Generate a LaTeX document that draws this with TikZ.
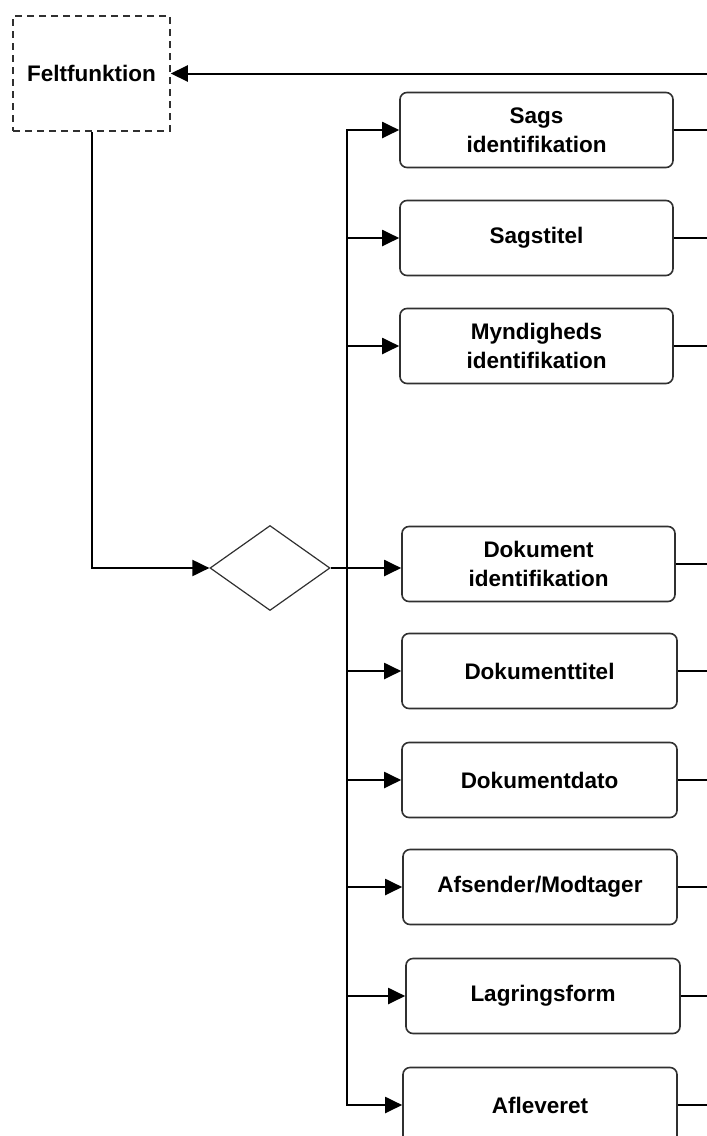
\documentclass[tikz,border=0pt]{standalone}
\usepackage{fontspec}
\setmainfont{Liberation Sans}
\usetikzlibrary{shapes.geometric,arrows.meta}
\definecolor{edge}{HTML}{303030}
\tikzset{
  field/.style={draw=edge, line width=1.6pt, rounded corners=7pt,
    minimum width=273pt, minimum height=75pt, inner sep=0pt,
    align=center, font=\bfseries\fontsize{22.5}{29}\selectfont},
  funcbox/.style={draw=edge, line width=1.5pt, dash pattern=on 7pt off 5pt,
    minimum width=157pt, minimum height=115pt, inner sep=0pt,
    font=\bfseries\fontsize{22.5}{29}\selectfont},
  choice/.style={diamond, draw=edge, line width=1.2pt, aspect=1.412,
    minimum width=120pt, minimum height=85pt, inner sep=0pt},
  link/.style={line width=2pt, black},
  arr/.style={link, -{Triangle[length=17pt, width=16pt]}},
}
\begin{document}
\begin{tikzpicture}[x=1pt, y=-1pt]
  \useasboundingbox (0,0) rectangle (707,1136);
  \clip (0,0) rectangle (707,1136);

  % function box and decision
  \node[funcbox] (ff) at (91.5,73.5) {Feltfunktion};
  \node[choice] (dia) at (270,568) {};

  % field boxes
  \node[field] (b1) at (536.5,130) {Sags\\identifikation};
  \node[field] (b2) at (536.5,238) {Sagstitel};
  \node[field] (b3) at (536.5,346) {Myndigheds\\identifikation};
  \node[field] (b4) at (538.5,564) {Dokument\\identifikation};
  \node[field, minimum width=275pt] (b5) at (539.5,671) {Dokumenttitel};
  \node[field, minimum width=275pt] (b6) at (539.5,780) {Dokumentdato};
  \node[field, minimum width=274pt] (b7) at (540,887) {Afsender/Modtager};
  \node[field, minimum width=274pt] (b8) at (543,996) {Lagringsform};
  \node[field, minimum width=274pt] (b9) at (540,1105) {Afleveret};

  % helper points
  \coordinate (j) at (347,568);
  \coordinate (rim) at (707,0);
  \coordinate (fb) at (707,73.5);

  % incoming feedback line
  \draw[arr] (fb) -- (ff.east);

  % function box to decision
  \draw[arr] (ff.south) |- (dia.west);
  \draw[link] (dia.east) -- (j);

  % branches to the fields
  \draw[arr] (j) -- (j -| b4.west);
  \foreach \b in {b1,b2,b3,b5,b6,b7,b8,b9}
    \draw[arr] (j) |- (\b.west);

  % outgoing lines
  \foreach \b in {b1,b2,b3,b4,b5,b6,b7,b8,b9}
    \draw[link] (\b.east) -- (\b.east -| rim);
\end{tikzpicture}
\end{document}
